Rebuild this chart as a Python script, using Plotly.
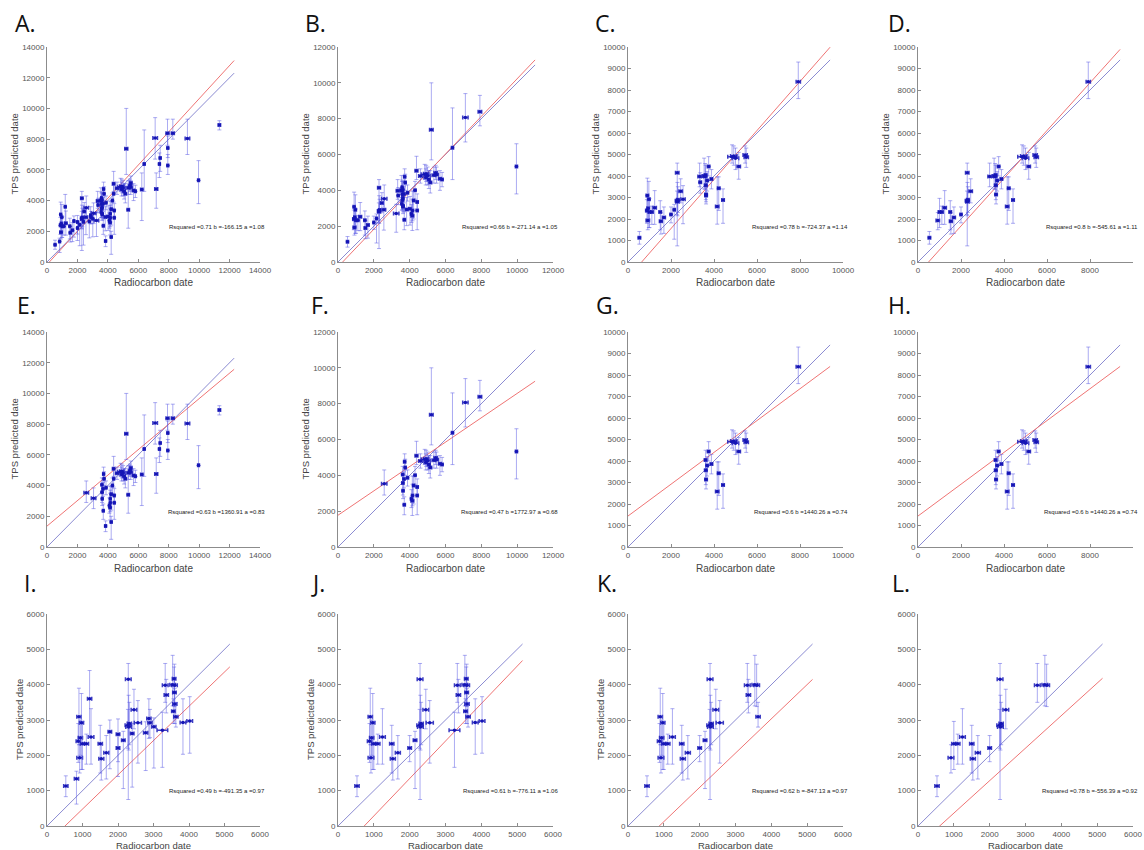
import plotly.graph_objects as go

W, H = 1144, 850

# ---------------- data (master table; panels_in says which panels show a sample) ----------------
rc_date = [530, 830, 900, 970, 880, 940, 920, 1000, 1110, 1240, 1200, 1500, 1530, 1670, 1770, 2000, 2000,
           2150, 2290, 2280, 2300, 2320, 2400, 2450, 2560, 2780, 2870, 2900, 3010, 3250, 3330, 3360, 3540,
           3590, 3580, 3590, 3600, 3560, 3630, 3830, 4020,
           2580, 3060, 3720, 3750, 3610, 3680, 3620, 3630, 3700, 3850, 4380, 4380, 4300, 4160, 4160, 4100,
           4220, 4420, 4150, 4220, 4420, 4920, 4900, 5000, 4840, 5210, 5340, 5150, 5510, 5500, 5450, 5690,
           5810, 6230, 6390, 7110, 7180, 7440, 7390, 7920, 7940, 7940, 8270, 9230, 9960, 11330, 4600, 5070,
           5350, 3880]
tps_date = [1130, 1340, 3090, 2920, 2400, 2500, 1930, 2330, 2330, 2520, 3600, 2330, 1900, 2070, 2670, 2600, 2210,
            2430, 4150, 2850, 2800, 2900, 2620, 3290, 2920, 2640, 3040, 2920, 2810, 2710, 3980, 3710, 4000,
            3980, 4170, 3780, 3450, 3250, 3090, 2930, 2970,
            3530, 3180, 4760, 4440, 4050, 3790, 3570, 3140, 2360, 1360, 5090, 4440, 4000, 3140, 2880, 2700,
            1620, 2880, 2580, 3430, 3350, 4930, 4720, 4820, 4900, 7380, 3400, 4440, 5150, 4870, 4980, 4650,
            4610, 4720, 6380, 8070, 4760, 6770, 6380, 8380, 7420, 6280, 8380, 8050, 5330, 8920, 4800, 4600,
            4840, 3860]
tps_upper = [1420, 1550, 3900, 3750, 2900, 3000, 2300, 2960, 2600, 3320, 4400, 2850, 2300, 2560, 3000, 3030, 2560,
             2680, 4600, 3300, 3700, 3500, 2900, 3870, 3550, 2950, 3600, 3300, 3060, 3220, 4600, 4150, 4830,
             4580, 4500, 4200, 3900, 3600, 3500, 3600, 3660,
             4300, 3850, 5200, 4900, 4500, 4200, 4100, 3600, 2800, 1700, 5900, 5000, 4500, 3700, 3500, 3200,
             2000, 3400, 3960, 3960, 3800, 5400, 5200, 5300, 5450, 10000, 4700, 5100, 5600, 5300, 5400, 5100,
             5000, 5800, 8600, 9400, 5800, 7600, 7100, 9300, 8200, 7000, 9300, 9300, 6600, 9200, 5200, 5100,
             5300, 4300]
tps_lower = [830, 620, 2300, 1600, 1800, 2000, 1500, 1600, 1750, 1750, 2500, 1500, 1300, 1330, 1620, 1400, 1820,
             1060, 750, 2200, 2150, 2300, 1100, 2750, 1780, 1570, 2480, 2500, 1640, 1660, 3500, 3200, 3400,
             3380, 3800, 3400, 2900, 2900, 2800, 2030, 2060,
             2900, 2500, 4300, 4000, 3600, 3300, 2900, 2700, 1800, 1000, 4600, 3900, 3500, 2600, 2300, 2200,
             500, 1800, 1760, 2400, 2900, 4500, 4300, 4300, 4600, 5700, 2200, 3850, 4700, 4400, 4600, 4000,
             4200, 2700, 4600, 6700, 3500, 5900, 5500, 7600, 6800, 5700, 8000, 7000, 3800, 8600, 4400, 4100,
             4400, 3400]
rc_err = [60, 60, 60, 60, 60, 60, 80, 60, 60, 80, 60, 60, 70, 70, 50, 50, 50,
          50, 80, 80, 80, 60, 50, 80, 100, 60, 60, 60, 60, 150, 80, 60, 80,
          80, 50, 50, 60, 50, 60, 80, 80,
          150, 150, 60, 60, 60, 60, 60, 60, 60, 60, 80, 60, 60, 60, 60, 60,
          60, 60, 80, 60, 60, 150, 100, 150, 200, 100, 80, 80, 80, 100, 100, 80,
          60, 80, 60, 150, 100, 60, 60, 100, 60, 60, 100, 150, 60, 80, 100, 80,
          100, 60]
panels_in = ["ABCDIJKL", "AI", "ABCIJK", "ABCIJK", "ABCIJK", "ABCIJK", "ABCDIJKL", "ABCDIJKL", "ABCDIJKL",
             "ABCDIJKL", "AI", "ABCDIJKL", "ABCDIJKL", "ABCDIJKL", "AI", "AI", "ABCDIJKL",
             "ABCIJK", "ABCDIJKL", "ABCDIJKL", "ABCDIJKL", "ABCDIJKL", "AI", "ABCDIJKL", "ABCIJK", "AI", "AI",
             "AI", "AI", "ABIJ", "ABCDIJKL", "ABCIJK", "ABCDIJKL",
             "ABCDIJKL", "ABIJ", "ABIJ", "ABIJ", "ABIJ", "ABCIJK", "ABIJ", "ABIJ",
             "ABEF", "AE", "ABEF", "ABCDEFGH", "ABCDEFGH", "ABCDEFGH", "ABCDEFGH", "ABCDEFGH", "ABEF", "AE",
             "ABEF", "AE", "ABEF", "AE", "ABEF", "ABEF",
             "AE", "ABCDEFGH", "ABCDEFGH", "ABCDEFGH", "ABEF", "ABCDEFGH", "ABEF", "ABCDEFGH", "ABCDEFGH",
             "ABEF", "AE", "ABCDEFGH", "AE", "ABCDEFGH", "ABCDEFGH", "ABEF",
             "ABEF", "AE", "ABEF", "ABEF", "AE", "AE", "AE", "ABCDEFGH", "AE", "AE", "AE", "AE", "ABEF", "AE",
             "ABEF", "ABEF", "ABEF", "ABCDEFGH"]

panel_names = ["A", "B", "C", "D", "E", "F", "G", "H", "I", "J", "K", "L"]
axis_max = [14000, 12000, 10000, 10000, 14000, 12000, 10000, 10000, 6000, 6000, 6000, 6000]
xtick_step = [2000, 2000, 2000, 2000, 2000, 2000, 2000, 2000, 1000, 1000, 1000, 1000]
ytick_step = [2000, 2000, 1000, 1000, 2000, 2000, 1000, 1000, 1000, 1000, 1000, 1000]
line_max = [12300, 11000, 9400, 9400, 12300, 11000, 9400, 9400, 5150, 5150, 5150, 5150]
r_squared = ["0.71", "0.66", "0.78", "0.8", "0.63", "0.47", "0.6", "0.6", "0.49", "0.61", "0.62", "0.78"]
fit_b = ["-166.15", "-271.14", "-724.37", "-545.61", "1360.91", "1772.97", "1440.26", "1440.26",
         "-491.35", "-776.11", "-847.13", "-556.39"]
fit_a = ["1.08", "1.05", "1.14", "1.11", "0.83", "0.68", "0.74", "0.74", "0.97", "1.06", "0.97", "0.92"]
show_ytitle = [True, True, True, True, True, True, False, False, True, True, True, False]

# ---------------- layout geometry (pixels) ----------------
col_px = [(47, 260), (338, 553), (628, 843), (918, 1133)]
row_px = [(47, 262), (332, 547), (614, 826)]
xtitle_gap = [20, 21, 19]      # px from x-axis line to centre of x title
xtitle_size = [10, 10, 9.5]
ytitle_gap = [33, 33, 28]      # px from y-axis line to centre of y title
label_px = [(13, 23), (303, 23), (593, 23), (886, 23),
            (15, 305), (309, 305), (594, 305), (886, 305),
            (22, 583), (309, 583), (595, 583), (890, 583)]

fig = go.Figure()
layout = dict(width=W, height=H, margin=dict(l=0, r=0, t=0, b=0, autoexpand=False), paper_bgcolor="white",
              plot_bgcolor="white", showlegend=False, annotations=[])

AX_FONT = "Liberation Sans, Arial, sans-serif"


def ann(text, px, py, size, color, family=AX_FONT, xanchor="center", angle=0):
    return dict(text=text, x=px / W, y=1 - py / H, xref="paper", yref="paper", xanchor=xanchor,
                yanchor="middle", showarrow=False, textangle=angle,
                font=dict(family=family, size=size, color=color))


for i, name in enumerate(panel_names):
    r, c = divmod(i, 4)
    sfx = "" if i == 0 else str(i + 1)
    xref, yref = "x" + sfx, "y" + sfx
    x0, x1 = col_px[c]
    y0, y1 = row_px[r]
    idx = [k for k, p in enumerate(panels_in) if name in p]
    xs = [rc_date[k] for k in idx]
    ys = [tps_date[k] for k in idx]
    eplus = [tps_upper[k] - tps_date[k] for k in idx]
    eminus = [tps_date[k] - tps_lower[k] for k in idx]
    exs = [rc_err[k] for k in idx]

    a = float(fit_a[i]); b = float(fit_b[i])
    lm = line_max[i]
    # 1:1 line
    fig.add_trace(go.Scatter(x=[0, lm], y=[0, lm], mode="lines", xaxis=xref, yaxis=yref,
                             line=dict(color="#8b8bd2", width=1), hoverinfo="skip"))
    # fitted line
    fig.add_trace(go.Scatter(x=[0, lm], y=[b, a * lm + b], mode="lines", xaxis=xref, yaxis=yref,
                             line=dict(color="#ef7474", width=1), hoverinfo="skip"))
    # data
    fig.add_trace(go.Scatter(
        x=xs, y=ys, mode="markers", xaxis=xref, yaxis=yref,
        marker=dict(size=3.5, color="#1515b5"),
        error_y=dict(type="data", symmetric=False, array=eplus, arrayminus=eminus,
                     color="rgba(90,90,230,0.5)", thickness=1, width=2),
        error_x=dict(type="data", array=exs, color="rgba(25,25,185,0.85)", thickness=1.5, width=2),
        cliponaxis=False))

    amax = axis_max[i]
    common = dict(showline=True, linecolor="#8c8c8c", linewidth=1, ticks="inside", ticklen=3,
                  tickcolor="#8c8c8c", showgrid=False, zeroline=False, tickformat="d",
                  tickfont=dict(family=AX_FONT, size=8, color="#555"), range=[0, amax],
                  fixedrange=True, automargin=False)
    layout["xaxis" + sfx] = dict(common, domain=[x0 / W, x1 / W], anchor=yref,
                                 tickvals=list(range(0, amax + 1, xtick_step[i])))
    layout["yaxis" + sfx] = dict(common, domain=[1 - y1 / H, 1 - y0 / H], anchor=xref,
                                 tickvals=list(range(0, amax + 1, ytick_step[i])))

    # axis titles
    layout["annotations"].append(ann("Radiocarbon date", (x0 + x1) / 2, y1 + xtitle_gap[r],
                                     xtitle_size[r], "#444"))
    if show_ytitle[i]:
        layout["annotations"].append(ann("TPS predicted date", x0 - ytitle_gap[r], (y0 + y1) / 2, 9.5,
                                         "#444", angle=-90))
    # panel letter
    lx, ly = label_px[i]
    layout["annotations"].append(ann(name + ".", lx, ly, 23, "#111", family="Open Sans, sans-serif",
                                     xanchor="left"))
    # fit statistics
    layout["annotations"].append(ann("Rsquared =%s b =%s a =%s" % (r_squared[i], fit_b[i], fit_a[i]),
                                     x1 + 7, y1 - 35, 6, "#222", xanchor="right"))

fig.update_layout(**layout)
fig.write_html("out.html")
